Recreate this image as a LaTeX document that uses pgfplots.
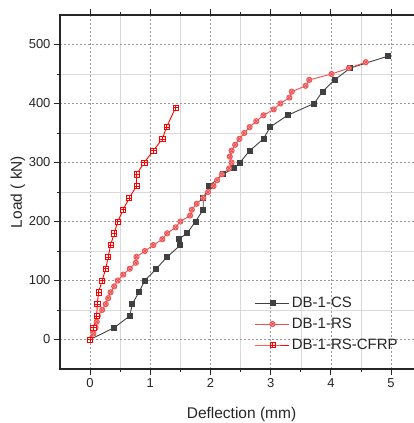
\documentclass[border=0pt]{standalone}
\usepackage{pgfplots}
\pgfplotsset{compat=1.18}
\usepackage{fontspec}
\setmainfont{Liberation Sans}
\pgfdeclareplotmark{boxplus}{%
  \pgfpathrectangle{\pgfpoint{-\pgfplotmarksize}{-\pgfplotmarksize}}{\pgfpoint{2\pgfplotmarksize}{2\pgfplotmarksize}}%
  \pgfusepathqfillstroke
  \pgfpathmoveto{\pgfpoint{-\pgfplotmarksize}{0pt}}\pgfpathlineto{\pgfpoint{\pgfplotmarksize}{0pt}}%
  \pgfpathmoveto{\pgfpoint{0pt}{-\pgfplotmarksize}}\pgfpathlineto{\pgfpoint{0pt}{\pgfplotmarksize}}%
  \pgfusepathqstroke}
\definecolor{csgray}{RGB}{64,64,64}
\definecolor{rslight}{RGB}{240,80,80}
\definecolor{cfred}{RGB}{255,0,0}
\begin{document}
\begin{tikzpicture}
\useasboundingbox (0,0) rectangle (414pt,423pt);
\begin{axis}[
  at={(60pt,54pt)}, anchor=south west,
  scale only axis, width=355.2pt, height=354pt,
  xmin=-0.5, xmax=5.4, ymin=-50, ymax=550,
  xtick={0,1,2,3,4,5}, ytick={0,100,200,300,400,500},
  minor x tick num=1, minor y tick num=1,
  tick align=outside, tick pos=both,
  major tick length=6pt, minor tick length=3pt,
  axis line style={line width=1.1pt, black!85},
  every tick/.style={line width=0.9pt, black!85},
  grid=both,
  major grid style={dashed, dash pattern=on 2pt off 2pt, gray!80, line width=0.6pt},
  minor grid style={gray!30, line width=0.6pt},
  /pgf/number format/assume math mode=true,
  ticklabel style={font=\fontsize{13}{15}\selectfont, text=black!85},
  xlabel={Deflection (mm)}, ylabel={Load ( kN)},
  label style={font=\fontsize{15.5}{18}\selectfont, text=black!85},
  xlabel style={at={(axis description cs:0.511,0)}, anchor=base, yshift=-49.5pt},
  ylabel style={at={(axis description cs:-0.1186,0.5)}, anchor=center},
  legend style={at={(axis description cs:0.54,0.039)}, anchor=south west, draw=none, fill=none,
    font=\fontsize{15}{18}\selectfont, row sep=5pt, text=black!85},
  legend cell align=left,
  legend image code/.code={\draw[mark repeat=2,mark phase=2,#1] plot coordinates {(0pt,0pt) (17pt,0pt) (34pt,0pt)};},
]
\addplot[color=csgray, line width=0.9pt, mark=square*, mark size=2.5pt, mark options={fill=csgray}] coordinates {
(0,0) (0.40,20) (0.66,40) (0.70,60) (0.81,80) (0.91,100) (1.10,120) (1.28,140) (1.50,160) (1.47,170)
(1.61,180) (1.75,200) (1.88,220) (1.88,240) (1.98,260) (2.20,280) (2.39,290) (2.49,300) (2.65,320)
(2.88,340) (2.99,360) (3.28,380) (3.72,400) (3.86,420) (4.06,440) (4.32,460) (4.94,480)};
\addlegendentry{DB-1-CS}
\addplot[color=rslight, line width=0.9pt, mark=otimes*, mark size=2.6pt, mark options={fill=rslight!35, draw=rslight}] coordinates {
(0,0) (0.055,10) (0.09,20) (0.11,30) (0.13,40) (0.20,50) (0.26,60) (0.30,70) (0.34,80) (0.40,90)
(0.46,100) (0.55,110) (0.66,120) (0.76,130) (0.77,140) (0.91,150) (1.05,160) (1.20,170) (1.28,180)
(1.42,190) (1.50,200) (1.66,210) (1.69,220) (1.77,230) (1.88,240) (1.96,250) (2.05,260) (2.11,270)
(2.19,280) (2.31,290) (2.35,300) (2.32,310) (2.35,320) (2.41,330) (2.48,340) (2.56,350) (2.65,360)
(2.76,370) (2.88,380) (3.05,390) (3.16,400) (3.31,410) (3.35,420) (3.58,430) (3.64,440) (4.01,450)
(4.30,460) (4.58,470)};
\addlegendentry{DB-1-RS}
\addplot[color=cfred, line width=0.9pt, mark=boxplus, mark size=2.6pt, mark options={fill=white, draw=cfred, line width=0.7pt}] coordinates {
(0,0) (0.055,20) (0.11,40) (0.12,60) (0.14,80) (0.20,100) (0.26,120) (0.30,140) (0.34,160) (0.40,180)
(0.46,200) (0.55,220) (0.65,240) (0.77,260) (0.77,280) (0.90,300) (1.05,320) (1.20,340) (1.27,360)
(1.42,393)};
\addlegendentry{DB-1-RS-CFRP}
\end{axis}
\end{tikzpicture}
\end{document}
